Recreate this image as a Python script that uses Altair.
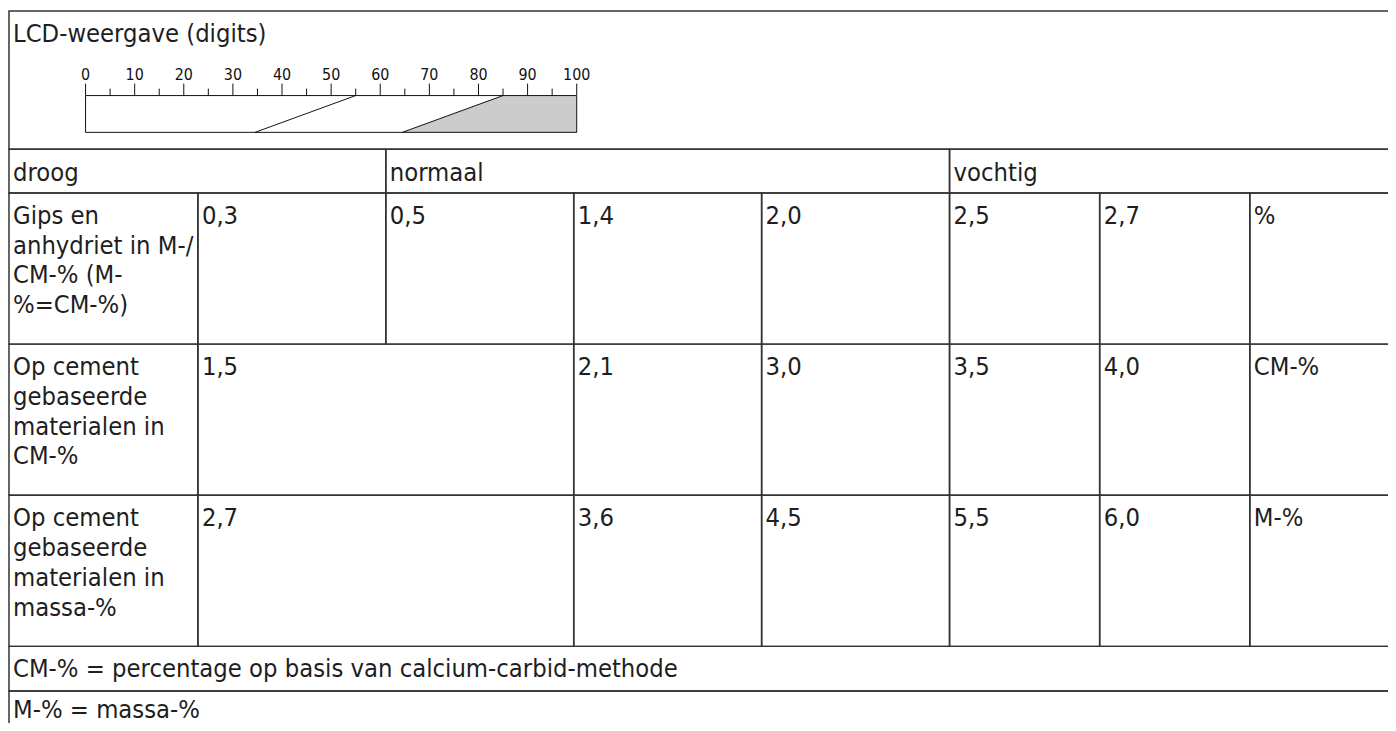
import altair as alt
import pandas as pd

# ---------------- data ----------------
TITLE = "LCD-weergave (digits)"
SCALE_MAJOR = [0, 10, 20, 30, 40, 50, 60, 70, 80, 90, 100]
SCALE_MINOR = [5, 15, 25, 35, 45, 55, 65, 75, 85, 95]
BAND_TOP = [55, 85]          # digits where the slanted borders meet the top edge
BAND_BOTTOM = [34.5, 64.5]   # digits where they meet the bottom edge
BAND_MAX = 100
MOIST_CLASSES = ["droog", "normaal", "vochtig"]
MATERIALS = [
    "Gips en\nanhydriet in M-/\nCM-% (M-\n%=CM-%)",
    "Op cement\ngebaseerde\nmaterialen in\nCM-%",
    "Op cement\ngebaseerde\nmaterialen in\nmassa-%",
]
GIPS_VALUES = ["0,3", "0,5", "1,4", "2,0", "2,5", "2,7"]
CEMENT_CM_VALUES = ["1,5", "2,1", "3,0", "3,5", "4,0"]
CEMENT_M_VALUES = ["2,7", "3,6", "4,5", "5,5", "6,0"]
UNITS = ["%", "CM-%", "M-%"]
NOTES = [
    "CM-% = percentage op basis van calcium-carbid-methode",
    "M-% = massa-%",
]

# ---------------- layout ----------------
W, H = 1388, 715
ORIGIN = 8
COL_EDGES = [9, 199, 388, 577, 766, 955, 1106, 1257, 1408]
ROW_EDGES = [9, 148, 192, 344, 496, 648, 693, 738]
ROW_BASELINE = [31, 32, 31, 31, 31, 31, 27]
CLASS_SPANS = [(0, 2), (2, 5), (5, 8)]
GIPS_SPANS = [(1, 2), (2, 3), (3, 4), (4, 5), (5, 6), (6, 7)]
CEMENT_SPANS = [(1, 3), (3, 4), (4, 5), (5, 6), (6, 7)]
LABEL_SPAN = (0, 1)
UNIT_SPAN = (7, 8)
FULL_SPAN = (0, 8)
PAD_X = 4
LINE_H = 30
FONT = "DejaVu Sans Condensed, DejaVu Sans, sans-serif"
FONT_SIZE = 25.5
LINE_COLOR = "#333333"
TEXT_COLOR = "#1e1e1e"

# LCD scale geometry (page pixels)
LCD_X0, LCD_X1 = 86, 580
MAJOR_TOP, MINOR_TOP, BAR_TOP, BAR_BOT = 82, 87, 94, 131
LABEL_Y = 78

cells = []


def add(span, row, text):
    c0, c1 = span
    cells.append(dict(x0=COL_EDGES[c0], x1=COL_EDGES[c1],
                      y0=ROW_EDGES[row], y1=ROW_EDGES[row + 1],
                      tx=COL_EDGES[c0] + PAD_X,
                      ty=ROW_EDGES[row] + ROW_BASELINE[row], text=text))


add(FULL_SPAN, 0, TITLE)
for span, name in zip(CLASS_SPANS, MOIST_CLASSES):
    add(span, 1, name)
value_rows = [(GIPS_SPANS, GIPS_VALUES), (CEMENT_SPANS, CEMENT_CM_VALUES),
              (CEMENT_SPANS, CEMENT_M_VALUES)]
for i, (spans, vals) in enumerate(value_rows):
    row = 2 + i
    add(LABEL_SPAN, row, MATERIALS[i])
    for span, v in zip(spans, vals):
        add(span, row, v)
    add(UNIT_SPAN, row, UNITS[i])
for i, note in enumerate(NOTES):
    add(FULL_SPAN, 5 + i, note)

cells_df = pd.DataFrame(cells)

px_x = alt.Scale(domain=[ORIGIN, ORIGIN + W], range=[0, W], zero=False, nice=False)
px_y = alt.Scale(domain=[ORIGIN, ORIGIN + H], range=[0, H], zero=False, nice=False)

base = alt.Chart(cells_df)
borders = base.mark_rect(filled=False, stroke=LINE_COLOR, strokeWidth=1.5).encode(
    x=alt.X("x0:Q", scale=px_x, axis=None),
    x2="x1:Q",
    y=alt.Y("y0:Q", scale=px_y, axis=None),
    y2="y1:Q",
)
texts = base.mark_text(
    align="left", baseline="alphabetic", font=FONT, fontSize=FONT_SIZE,
    lineBreak="\n", lineHeight=LINE_H, color=TEXT_COLOR,
).encode(
    x=alt.X("tx:Q", scale=px_x, axis=None),
    y=alt.Y("ty:Q", scale=px_y, axis=None),
    text="text:N",
)
table = alt.layer(borders, texts)

# ---------------- LCD scale ----------------
lcd_x = alt.Scale(domain=[0, BAND_MAX], range=[LCD_X0 - ORIGIN, LCD_X1 - ORIGIN],
                  zero=False, nice=False)

ticks_df = pd.DataFrame(
    [dict(d=v, top=MAJOR_TOP, bot=BAR_TOP) for v in SCALE_MAJOR]
    + [dict(d=v, top=MINOR_TOP, bot=BAR_TOP) for v in SCALE_MINOR]
)
ticks = alt.Chart(ticks_df).mark_rule(color="#111111", strokeWidth=1).encode(
    x=alt.X("d:Q", scale=lcd_x, axis=None),
    y=alt.Y("top:Q", scale=px_y, axis=None),
    y2="bot:Q",
)
labels_df = pd.DataFrame(dict(d=SCALE_MAJOR, lab=[str(v) for v in SCALE_MAJOR],
                              y=[LABEL_Y] * len(SCALE_MAJOR)))
labels = alt.Chart(labels_df).mark_text(
    align="center", baseline="alphabetic", font=FONT,
    fontSize=16, color="#111111",
).encode(
    x=alt.X("d:Q", scale=lcd_x, axis=None),
    y=alt.Y("y:Q", scale=px_y, axis=None),
    text="lab:N",
)
area_df = pd.DataFrame(dict(y=[BAR_TOP, BAR_BOT],
                            lo=[BAND_TOP[1], BAND_BOTTOM[1]],
                            hi=[BAND_MAX, BAND_MAX]))
band = alt.Chart(area_df).mark_area(orient="horizontal", color="#cccccc",
                                    opacity=1).encode(
    y=alt.Y("y:Q", scale=px_y, axis=None),
    x=alt.X("lo:Q", scale=lcd_x, axis=None),
    x2="hi:Q",
)
frame_df = pd.DataFrame(dict(a=[0], b=[BAND_MAX], t=[BAR_TOP], u=[BAR_BOT]))
frame = alt.Chart(frame_df).mark_rect(filled=False, stroke="#111111",
                                      strokeWidth=1).encode(
    x=alt.X("a:Q", scale=lcd_x, axis=None),
    x2="b:Q",
    y=alt.Y("t:Q", scale=px_y, axis=None),
    y2="u:Q",
)
diag_df = pd.DataFrame(dict(top=BAND_TOP, bottom=BAND_BOTTOM,
                            yt=[BAR_TOP] * 2, yb=[BAR_BOT] * 2))
diags = alt.Chart(diag_df).mark_rule(color="#111111", strokeWidth=1).encode(
    x=alt.X("top:Q", scale=lcd_x, axis=None),
    x2="bottom:Q",
    y=alt.Y("yt:Q", scale=px_y, axis=None),
    y2="yb:Q",
)
lcd = alt.layer(band, frame, diags, ticks, labels)

chart = (
    alt.layer(table, lcd)
    .resolve_scale(x="independent")
    .properties(width=W, height=H, padding=0, autosize="none", background="white")
    .configure_view(stroke=None)
)

chart.save("out.html", embed_options={"renderer": "svg", "actions": False})
